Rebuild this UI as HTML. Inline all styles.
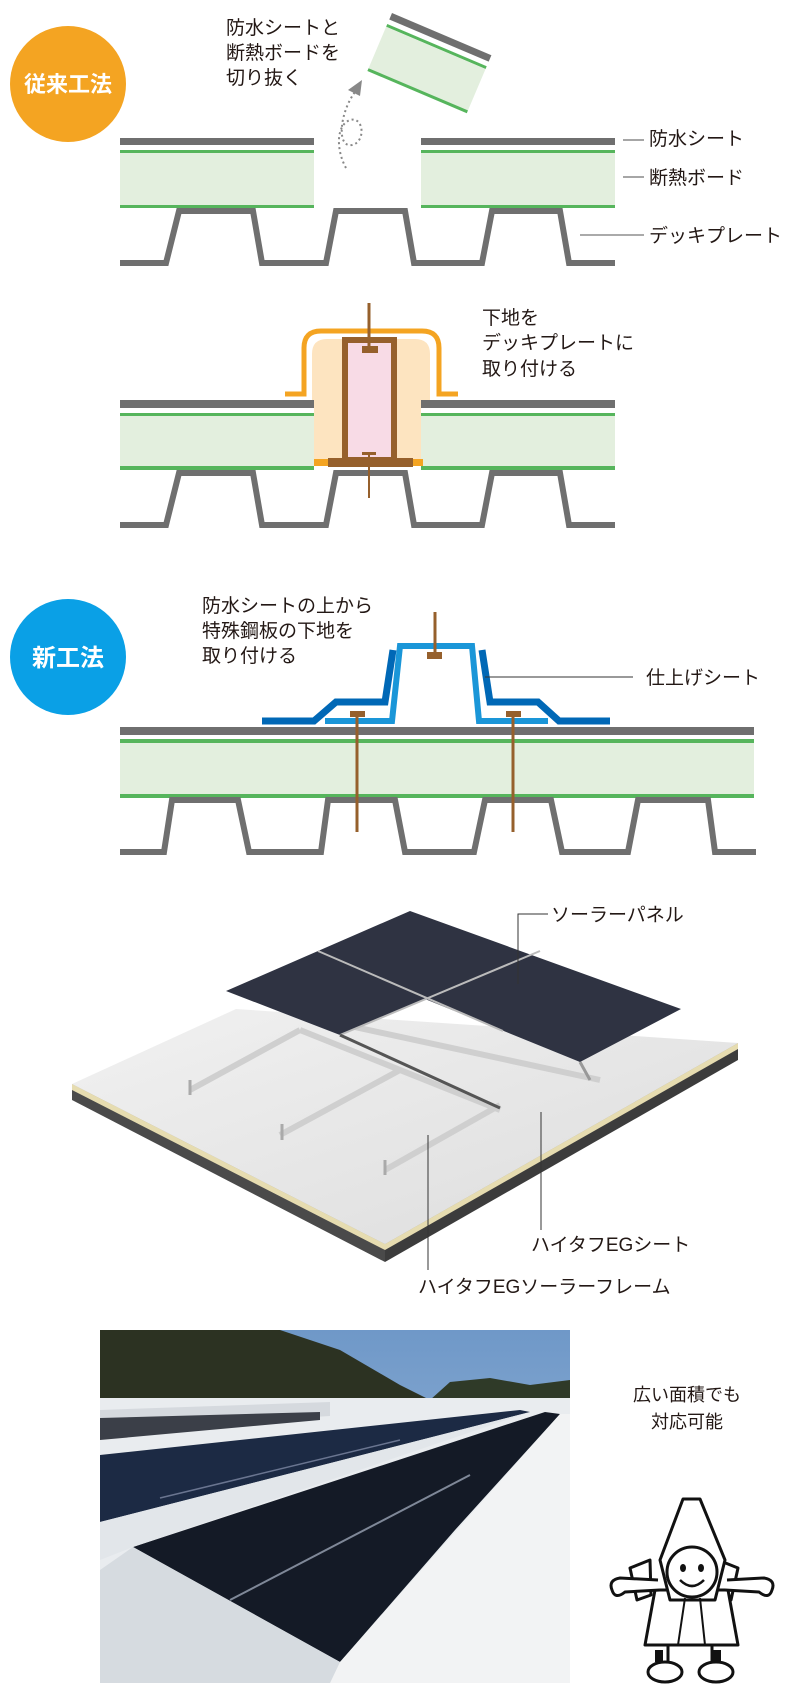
<!DOCTYPE html>
<html><head><meta charset="utf-8"><style>
html,body{margin:0;padding:0;background:#fff;}
svg{display:block;}
text{font-family:"Liberation Sans","Noto Sans CJK JP",sans-serif;fill:#231815;}
</style></head><body>
<svg width="800" height="1697" viewBox="0 0 800 1697" xmlns="http://www.w3.org/2000/svg">
<defs>
<linearGradient id="sky" x1="0" y1="0" x2="0" y2="1"><stop offset="0" stop-color="#6f98c8"/><stop offset="1" stop-color="#a9c3de"/></linearGradient>
<linearGradient id="roof" x1="0" y1="0" x2="1" y2="1"><stop offset="0" stop-color="#f1f1f1"/><stop offset="1" stop-color="#dcdcdc"/></linearGradient>
</defs>

<circle cx="68" cy="84" r="58" fill="#f4a422"/>
<text x="68" y="92" font-size="22" font-weight="bold" text-anchor="middle" style="fill:#fff">従来工法</text>

<text font-size="19"><tspan x="226" y="34">防水シートと</tspan><tspan x="226" y="59">断熱ボードを</tspan><tspan x="226" y="84">切り抜く</tspan></text>

<g transform="translate(392,13) rotate(23)">
<rect x="0" y="0" width="108" height="7" fill="#6f6f6f"/>
<rect x="0" y="12" width="108" height="3" fill="#56b55c"/>
<rect x="0" y="15" width="108" height="45" fill="#e3efde"/>
<rect x="0" y="60" width="108" height="3" fill="#56b55c"/>
</g>
<path d="M346,168 C336,150 336,125 350,120 C364,116 366,142 352,145 C336,148 340,112 355,92" fill="none" stroke="#888" stroke-width="2" stroke-dasharray="2,3"/>
<polygon points="362,80 348,90 360,96" fill="#888"/>

<g>
<rect x="120" y="138" width="194" height="7" fill="#6f6f6f"/>
<rect x="120" y="150" width="194" height="3" fill="#56b55c"/>
<rect x="120" y="153" width="194" height="52" fill="#e3efde"/>
<rect x="120" y="205" width="194" height="3" fill="#56b55c"/>
<rect x="421" y="138" width="194" height="7" fill="#6f6f6f"/>
<rect x="421" y="150" width="194" height="3" fill="#56b55c"/>
<rect x="421" y="153" width="194" height="52" fill="#e3efde"/>
<rect x="421" y="205" width="194" height="3" fill="#56b55c"/>
</g>
<path d="M120,263 L166,263 L179,211 L253,211 L262,263 L326,263 L336,211 L405,211 L414,263 L482,263 L492,211 L560,211 L569,263 L615,263" fill="none" stroke="#6f6f6f" stroke-width="6"/>
<line x1="623" y1="140" x2="644" y2="140" stroke="#888" stroke-width="1.5"/>
<line x1="623" y1="177" x2="644" y2="177" stroke="#888" stroke-width="1.5"/>
<line x1="580" y1="235" x2="644" y2="235" stroke="#555" stroke-width="1"/>
<text font-size="19"><tspan x="649" y="145">防水シート</tspan><tspan x="649" y="184">断熱ボード</tspan><tspan x="649" y="242">デッキプレート</tspan></text>

<text font-size="19"><tspan x="482" y="324">下地を</tspan><tspan x="482" y="349">デッキプレートに</tspan><tspan x="482" y="375">取り付ける</tspan></text>
<rect x="120" y="400" width="194" height="8" fill="#6f6f6f"/>
<rect x="120" y="413" width="194" height="3" fill="#56b55c"/>
<rect x="120" y="416" width="194" height="50" fill="#e3efde"/>
<rect x="120" y="466" width="194" height="4" fill="#56b55c"/>
<rect x="421" y="400" width="194" height="8" fill="#6f6f6f"/>
<rect x="421" y="413" width="194" height="3" fill="#56b55c"/>
<rect x="421" y="416" width="194" height="50" fill="#e3efde"/>
<rect x="421" y="466" width="194" height="4" fill="#56b55c"/>
<path d="M120,525 L166,525 L179,473 L253,473 L262,525 L326,525 L336,473 L405,473 L414,525 L482,525 L492,473 L560,473 L569,525 L615,525" fill="none" stroke="#6f6f6f" stroke-width="6"/>
<path d="M312,400 L312,354 Q312,339 327,339 L415,339 Q430,339 430,354 L430,400 Z" fill="#fde4c0"/>
<rect x="314" y="396" width="107" height="66" fill="#fde4c0"/>
<path d="M285,394 L304,394 L304,348 Q304,331 321,331 L422,331 Q439,331 439,348 L439,394 L458,394" fill="none" stroke="#f4a422" stroke-width="5"/>
<rect x="314" y="459" width="109" height="7" fill="#f4a422"/>
<rect x="328" y="458" width="85" height="9" fill="#96602c"/>
<rect x="345" y="340" width="49" height="120" fill="#f8dbe6" stroke="#96602c" stroke-width="6"/>
<line x1="369" y1="303" x2="369" y2="350" stroke="#96602c" stroke-width="3"/>
<rect x="362" y="346" width="16" height="7" fill="#96602c"/>
<line x1="369" y1="453" x2="369" y2="498" stroke="#96602c" stroke-width="2"/>
<rect x="362" y="452" width="14" height="3" fill="#96602c"/>

<circle cx="68" cy="657" r="58" fill="#0aa0e6"/>
<text x="68" y="666" font-size="24" font-weight="bold" text-anchor="middle" style="fill:#fff">新工法</text>
<text font-size="19"><tspan x="202" y="612">防水シートの上から</tspan><tspan x="202" y="637">特殊鋼板の下地を</tspan><tspan x="202" y="662">取り付ける</tspan></text>
<rect x="120" y="727" width="634" height="8" fill="#6f6f6f"/>
<rect x="120" y="739" width="634" height="4" fill="#56b55c"/>
<rect x="120" y="743" width="634" height="51" fill="#e3efde"/>
<rect x="120" y="794" width="634" height="4" fill="#56b55c"/>
<path d="M120,852 L164,852 L172,800 L238,800 L249,852 L321,852 L328,800 L395,800 L405,852 L474,852 L485,800 L551,800 L562,852 L628,852 L638,800 L708,800 L715,852 L756,852" fill="none" stroke="#6f6f6f" stroke-width="6"/>
<path d="M325,721 L392,721 L400,646 L472,646 L479,721 L548,721" fill="none" stroke="#1a96d8" stroke-width="6"/>
<path d="M262,721 L314,721 L336,702 L385,702 L393,650" fill="none" stroke="#0068b6" stroke-width="7"/>
<path d="M482,650 L490,702 L538,702 L559,721 L610,721" fill="none" stroke="#0068b6" stroke-width="7"/>
<line x1="435" y1="612" x2="435" y2="655" stroke="#96602c" stroke-width="3"/>
<rect x="427" y="652" width="15" height="7" fill="#96602c"/>
<line x1="357" y1="713" x2="357" y2="832" stroke="#96602c" stroke-width="3"/>
<rect x="350" y="711" width="15" height="6" fill="#96602c"/>
<line x1="513" y1="713" x2="513" y2="832" stroke="#96602c" stroke-width="3"/>
<rect x="506" y="711" width="15" height="6" fill="#96602c"/>
<line x1="485" y1="677" x2="633" y2="677" stroke="#333" stroke-width="1"/>
<text x="646" y="684" font-size="19">仕上げシート</text>

<polygon points="72,1084 385,1244 385,1262 72,1100" fill="#4a4a4a"/>
<polygon points="385,1244 738,1043 738,1060 385,1262" fill="#3c3c3c"/>
<polygon points="72,1084 385,1244 385,1250 72,1090" fill="#e6dcb0"/>
<polygon points="385,1244 738,1043 738,1049 385,1250" fill="#e6dcb0"/>
<polygon points="72,1084 236,1009 738,1043 385,1244" fill="url(#roof)"/>
<g stroke="#cfcfcf" stroke-width="6" fill="none">
<line x1="190" y1="1090" x2="300" y2="1030"/>
<line x1="280" y1="1135" x2="400" y2="1070"/>
<line x1="385" y1="1170" x2="500" y2="1105"/>
<line x1="300" y1="1030" x2="500" y2="1110"/>
<line x1="350" y1="1026" x2="600" y2="1080"/>
</g>
<g stroke="#aaa" stroke-width="3"><line x1="190" y1="1080" x2="190" y2="1095"/><line x1="282" y1="1124" x2="282" y2="1140"/><line x1="385" y1="1160" x2="385" y2="1175"/></g>
<g transform="translate(0,14)">
<polygon points="226,977 410,897 681,995 580,1048 425,985 340,1021" fill="#2f3342"/>
<line x1="318" y1="937" x2="503" y2="1017" stroke="#bbb" stroke-width="2"/>
<line x1="340" y1="1021" x2="540" y2="937" stroke="#bbb" stroke-width="2"/>
<line x1="340" y1="1021" x2="500" y2="1094" stroke="#555" stroke-width="3"/>
<line x1="580" y1="1048" x2="590" y2="1066" stroke="#999" stroke-width="3"/>
</g>
<polyline points="548,914 518,914 518,984" fill="none" stroke="#333" stroke-width="1"/>
<text x="551" y="921" font-size="19">ソーラーパネル</text>
<line x1="541" y1="1112" x2="541" y2="1230" stroke="#333" stroke-width="1"/>
<text x="531" y="1251" font-size="19">ハイタフEGシート</text>
<line x1="428" y1="1135" x2="428" y2="1270" stroke="#333" stroke-width="1"/>
<text x="418" y="1293" font-size="19">ハイタフEGソーラーフレーム</text>

<clipPath id="ph"><rect x="100" y="1330" width="470" height="353"/></clipPath>
<g clip-path="url(#ph)">
<rect x="100" y="1330" width="470" height="353" fill="url(#sky)"/>
<polygon points="100,1330 280,1330 340,1350 400,1385 430,1400 100,1405" fill="#2c3222"/>
<polygon points="430,1400 450,1382 490,1378 530,1385 570,1380 570,1405" fill="#2f3a28"/>
<rect x="100" y="1398" width="470" height="285" fill="#e9ecef"/>
<polygon points="100,1410 330,1402 330,1416 100,1430" fill="#d5d9de"/>
<polygon points="100,1418 320,1412 320,1420 100,1440" fill="#3b3f48"/>
<polygon points="100,1455 520,1410 530,1412 100,1522" fill="#1c2a44"/>
<polygon points="133,1547 545,1412 560,1414 455,1530 340,1662" fill="#141a26"/>
<polygon points="100,1522 530,1412 133,1547 100,1560" fill="#e2e6ea"/>
<polygon points="340,1662 560,1414 570,1414 570,1683 330,1683" fill="#f2f3f4"/>
<polygon points="100,1570 133,1547 340,1662 330,1683 100,1683" fill="#d6dbe0"/>
<line x1="230" y1="1600" x2="470" y2="1475" stroke="#7f8898" stroke-width="2"/>
<line x1="160" y1="1498" x2="400" y2="1440" stroke="#6a7590" stroke-width="1.5"/>
</g>

<text font-size="18" text-anchor="middle"><tspan x="687" y="1401">広い面積でも</tspan><tspan x="687" y="1428">対応可能</tspan></text>

<g fill="#fff" stroke="#111" stroke-width="3" stroke-linejoin="round">
<polygon points="630,1568 650,1560 651,1595 637,1600"/>
<polygon points="738,1568 718,1560 717,1595 731,1600"/>
<path d="M655,1590 L645,1645 L738,1645 L728,1590 Z"/>
<path d="M683,1499 L700,1499 L725,1560 L715,1600 L670,1600 L660,1560 Z"/>
<circle cx="692" cy="1572" r="25"/>
<path d="M658,1580 L620,1578 Q608,1580 612,1590 Q615,1600 625,1592 L660,1590"/>
<path d="M727,1580 L764,1578 Q776,1580 772,1590 Q769,1600 759,1592 L725,1590"/>
<line x1="668" y1="1645" x2="668" y2="1665"/><line x1="712" y1="1645" x2="712" y2="1665"/>
<ellipse cx="665" cy="1672" rx="17" ry="10"/><ellipse cx="716" cy="1672" rx="17" ry="10"/>
<line x1="685" y1="1598" x2="678" y2="1645" stroke-width="2"/><line x1="700" y1="1598" x2="705" y2="1645" stroke-width="2"/>
</g>
<g fill="#111"><ellipse cx="683" cy="1568" rx="3" ry="4"/><ellipse cx="701" cy="1568" rx="3" ry="4"/></g>
<path d="M680,1580 Q692,1592 704,1580" fill="none" stroke="#111" stroke-width="2.5"/>
<rect x="655" y="1650" width="8" height="12" fill="#111"/><rect x="713" y="1650" width="8" height="12" fill="#111"/>
</svg>
</body></html>
